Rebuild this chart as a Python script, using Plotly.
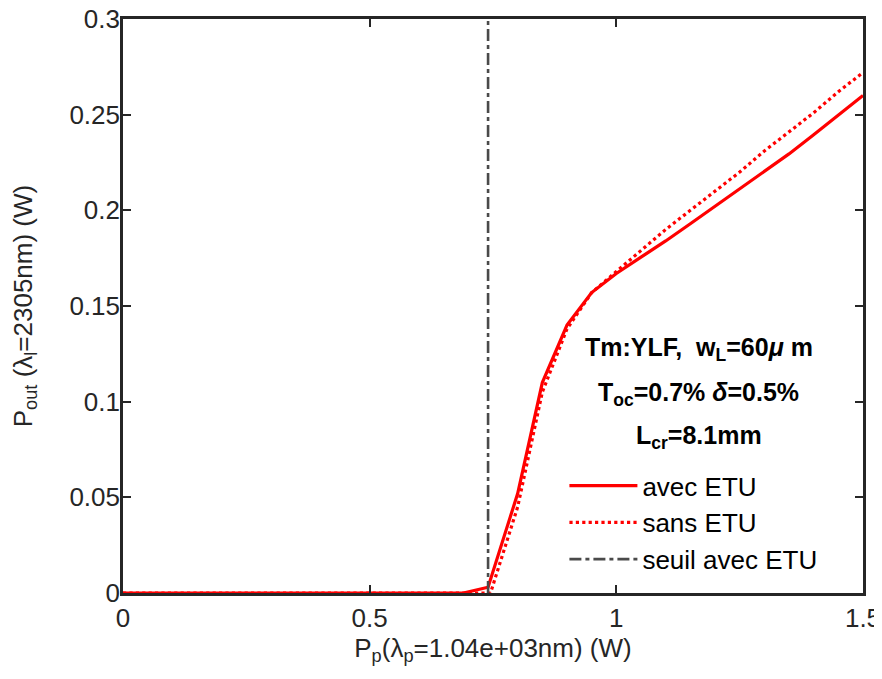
import plotly.graph_objects as go

# Pump power (W) and output power (W)
x_avec = [0, 0.1, 0.2, 0.3, 0.4, 0.5, 0.6, 0.69, 0.74, 0.80, 0.85, 0.90, 0.95,
          1.0, 1.05, 1.1, 1.15, 1.2, 1.25, 1.3, 1.35, 1.4, 1.45, 1.5]
y_avec = [0, 0, 0, 0, 0, 0, 0, 0, 0.003, 0.052, 0.110, 0.140, 0.157,
          0.167, 0.1755, 0.184, 0.193, 0.202, 0.211, 0.220, 0.2295, 0.2395, 0.2495, 0.260]

x_sans = [0, 0.1, 0.2, 0.3, 0.4, 0.5, 0.6, 0.7, 0.745, 0.80, 0.85, 0.90, 0.95,
          1.0, 1.05, 1.1, 1.15, 1.2, 1.25, 1.3, 1.35, 1.4, 1.45, 1.5]
y_sans = [0, 0, 0, 0, 0, 0, 0, 0, 0, 0.045, 0.105, 0.138, 0.157,
          0.168, 0.179, 0.190, 0.200, 0.210, 0.220, 0.231, 0.241, 0.251, 0.262, 0.272]

seuil_x = [0.74, 0.74]
seuil_y = [0, 0.3]

x_ticks = [0, 0.5, 1, 1.5]
x_tick_labels = ["0", "0.5", "1", "1.5"]
y_ticks = [0, 0.05, 0.1, 0.15, 0.2, 0.25, 0.3]
y_tick_labels = ["0", "0.05", "0.1", "0.15", "0.2", "0.25", "0.3"]

info_lines = [
    "<b>Tm:YLF,  w<sub>L</sub>=60<i>μ</i> m</b>",
    "<b>T<sub>oc</sub>=0.7% <i>δ</i>=0.5%</b>",
    "<b>L<sub>cr</sub>=8.1mm</b>",
]

font_family = "Liberation Sans, Arial, sans-serif"
axis_color = "#262626"

fig = go.Figure()
fig.add_trace(go.Scatter(x=x_avec, y=y_avec, mode="lines", name="avec ETU",
                         line=dict(color="#ff0000", width=3.2)))
fig.add_trace(go.Scatter(x=x_sans, y=y_sans, mode="lines", name="sans ETU",
                         line=dict(color="#ff0000", width=3.2, dash="dot")))
fig.add_trace(go.Scatter(x=seuil_x, y=seuil_y, mode="lines", name="seuil avec ETU",
                         line=dict(color="#4a4a4a", width=2.6, dash="12px,4px,4px,4px")))

info_pos = [(0.778, 0.425), (0.778, 0.347), (0.778, 0.271)]
for txt, (px, py) in zip(info_lines, info_pos):
    fig.add_annotation(
        x=px, y=py, xref="paper", yref="paper", text=txt,
        showarrow=False, align="center",
        font=dict(size=25, color="black", family=font_family),
        xanchor="center", yanchor="middle",
    )

axis_common = dict(
    showline=True, linewidth=2.6, linecolor=axis_color, mirror="ticks",
    ticks="inside", ticklen=8, tickwidth=2, tickcolor=axis_color,
    showgrid=False, zeroline=False, automargin=False,
    ticklabeloverflow="allow",
    tickfont=dict(size=26, color=axis_color, family=font_family),
)

fig.update_xaxes(range=[0, 1.5], tickvals=x_ticks, ticktext=x_tick_labels,
                 title=dict(text="P<sub>p</sub>(λ<sub>p</sub>=1.04e+03nm) (W)", standoff=2,
                            font=dict(size=26, color=axis_color, family=font_family)),
                 **axis_common)
fig.update_yaxes(range=[0, 0.3], tickvals=y_ticks, ticktext=y_tick_labels,
                 ticklabelstandoff=-5,
                 title=dict(text="P<sub>out</sub> (λ<sub>l</sub>=2305nm) (W)", standoff=32,
                            font=dict(size=26, color=axis_color, family=font_family)),
                 **axis_common)

fig.update_layout(
    width=882, height=663,
    margin=dict(l=115, r=27, t=11, b=78),
    paper_bgcolor="white", plot_bgcolor="white",
    font=dict(family=font_family, color=axis_color),
    legend=dict(x=0.5965, y=0.228, xanchor="left", yanchor="top",
                bgcolor="rgba(255,255,255,0)", borderwidth=0,
                font=dict(size=26, color="black", family=font_family),
                itemwidth=68, tracegroupgap=0),
    showlegend=True,
)

fig.write_html("out.html")
